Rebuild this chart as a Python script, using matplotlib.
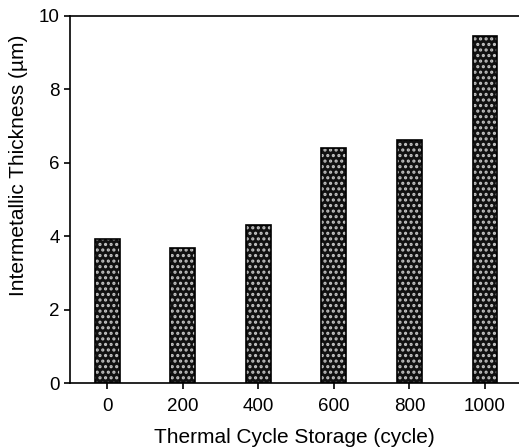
import matplotlib
matplotlib.use("Agg")
import matplotlib.pyplot as plt
import numpy as np

# thermal cycle storage vs intermetallic thickness
cycles = ["0", "200", "400", "600", "800", "1000"]
thickness = [3.93, 3.68, 4.3, 6.4, 6.63, 9.45]

plt.rcParams["font.family"] = ["Liberation Sans", "DejaVu Sans"]
plt.rcParams["hatch.linewidth"] = 1.5

fig = plt.figure(figsize=(5.19, 4.47), dpi=100)
ax = fig.add_axes([70 / 519, 1 - 383 / 447, 449 / 519, 367 / 447])

x = np.arange(len(cycles))
# patterned fill, then black outline on top
ax.bar(x, thickness, width=0.33, color="#111111", edgecolor="#c4c4c4", hatch="...", linewidth=0, zorder=2)
ax.bar(x, thickness, width=0.33, fill=False, edgecolor="black", linewidth=1.2, zorder=3)

ax.set_xlim(-0.49, 5.45)
ax.set_ylim(0, 10)
ax.set_xticks(x)
ax.set_xticklabels(cycles)
ax.set_yticks([0, 2, 4, 6, 8, 10])
ax.tick_params(axis="both", direction="out", labelsize=13.5, width=1.2, length=4)
ax.tick_params(axis="x", pad=7)
for s in ["left", "bottom", "top"]:
    ax.spines[s].set_linewidth(1.2)
ax.spines["right"].set_visible(False)

ax.set_xlabel("Thermal Cycle Storage (cycle)", fontsize=15, labelpad=9)
ax.set_ylabel("Intermetallic Thickness (\u00b5m)", fontsize=15)
ax.yaxis.set_label_coords(-0.094, 0.594)

fig.savefig("out.png", dpi=100)
